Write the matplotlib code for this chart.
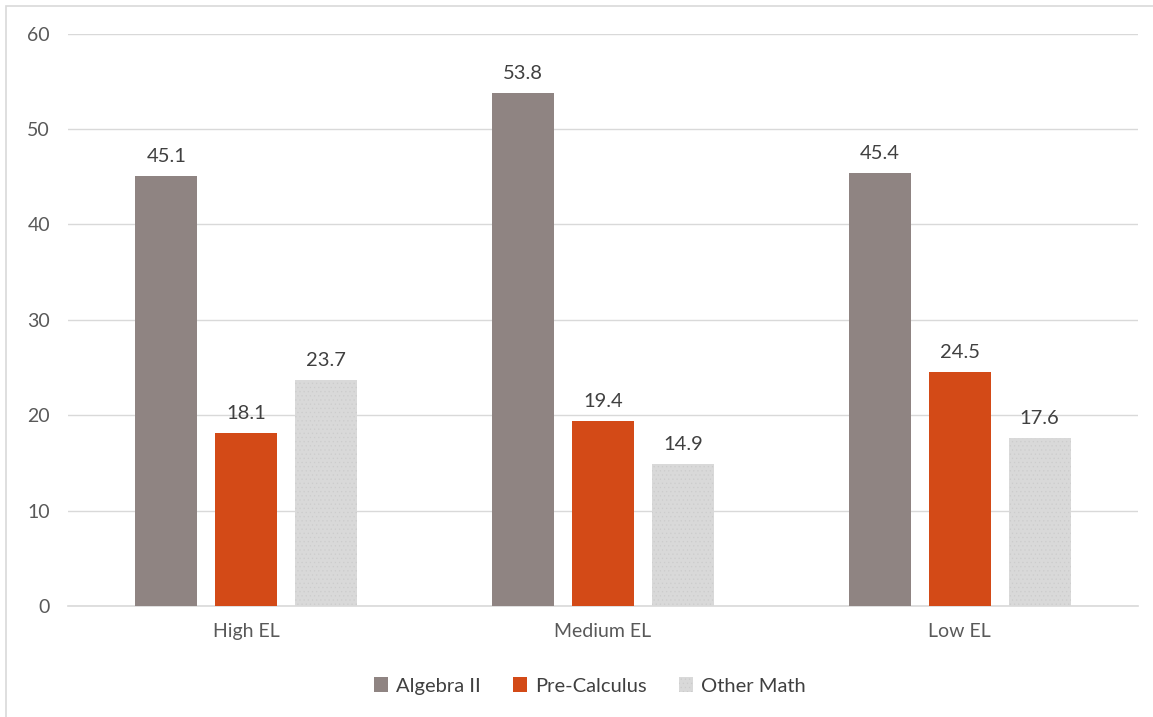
import numpy as np
import matplotlib.pyplot as plt
from matplotlib.patches import Rectangle

plt.rcParams["font.family"] = ["Lato", "DejaVu Sans"]
plt.rcParams["hatch.linewidth"] = 0.4

groups = ["High EL", "Medium EL", "Low EL"]
algebra = [45.1, 53.8, 45.4]
precalc = [18.1, 19.4, 24.5]
other = [23.7, 14.9, 17.6]
series_names = ["Algebra II", "Pre-Calculus", "Other Math"]
colors = ["#8F8482", "#D34A17", "#D9D9D9"]

fig = plt.figure(figsize=(11.53, 7.17), dpi=100)
ax = fig.add_axes([0.059, 0.155, 0.928, 0.798])

# light frame around the chart area
fig.patches.append(Rectangle((6 / 1153, -0.1), 1.2, 1.1 - 6 / 717, transform=fig.transFigure,
                             facecolor="none", edgecolor="#D9D9D9", linewidth=1.2))

x = np.arange(len(groups))
width = 0.174
step = 0.224
for i, (vals, name, c) in enumerate(zip([algebra, precalc, other], series_names, colors)):
    hatch = "...." if name == "Other Math" else None
    bars = ax.bar(x + (i - 1) * step, vals, width, color=c, label=name, hatch=hatch,
                  edgecolor="#CCCCCC" if hatch else c, linewidth=0, zorder=3)
    for b, v in zip(bars, vals):
        ax.annotate(f"{v:.1f}", (b.get_x() + b.get_width() / 2, v), xytext=(0, 8),
                    textcoords="offset points", ha="center", va="bottom",
                    fontsize=14.5, color="#404040")

ax.set_xlim(-0.5, 2.5)
ax.set_ylim(0, 60)
ax.set_yticks(range(0, 61, 10))
ax.set_xticks(x)
ax.set_xticklabels(groups)
ax.grid(axis="y", color="#D9D9D9", linewidth=1, zorder=0)
for s in ["top", "right", "left"]:
    ax.spines[s].set_visible(False)
ax.spines["bottom"].set_color("#D9D9D9")
ax.spines["bottom"].set_linewidth(1.2)
ax.tick_params(axis="both", length=0, labelsize=14, labelcolor="#595959")
ax.tick_params(axis="y", pad=13)
ax.tick_params(axis="x", pad=12)

ax.legend(loc="center", bbox_to_anchor=(0.488, -0.14), ncol=3, frameon=False,
          fontsize=14.5, handlelength=0.7, handleheight=0.7, handletextpad=0.4,
          columnspacing=1.6, labelcolor="#404040")

fig.savefig("out.png", dpi=100)
